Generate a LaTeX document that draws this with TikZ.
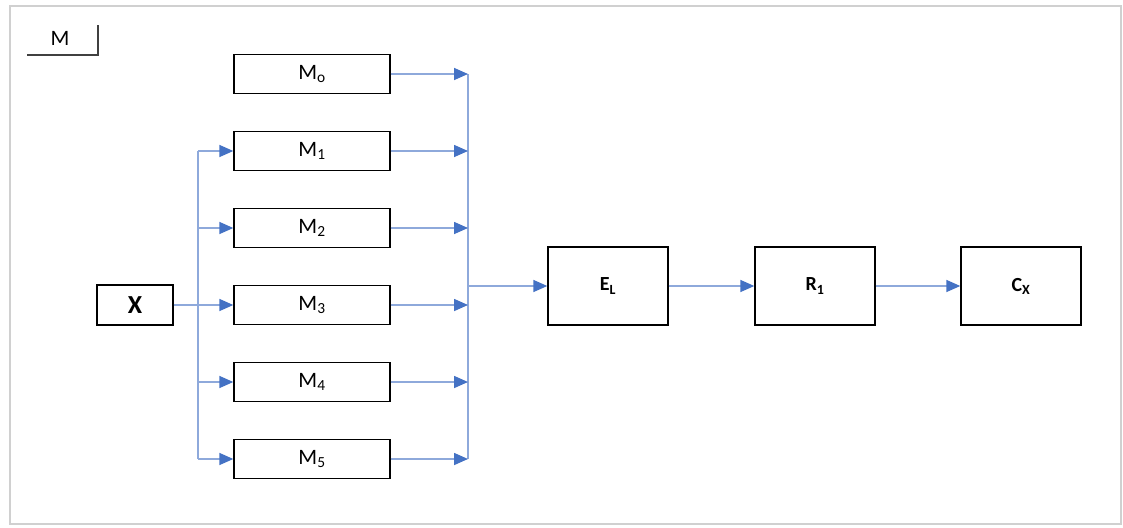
\documentclass[tikz,border=0pt]{standalone}
\usepackage{fontspec}
\setmainfont{Carlito}
\usetikzlibrary{arrows.meta}
\definecolor{lineblue}{HTML}{8EA9DB}
\definecolor{tipblue}{HTML}{4472C4}
\definecolor{framegray}{HTML}{D0D0D0}
\tikzset{
  box/.style={draw=black, line width=1.4pt, inner sep=0pt, align=center},
  mbox/.style={box, minimum width=156pt, minimum height=39pt, font=\fontsize{22}{26}\selectfont},
  bigbox/.style={box, minimum width=120pt, minimum height=78pt, font=\fontsize{20}{24}\selectfont\bfseries},
  conn/.style={draw=lineblue, line width=1.6pt},
  arr/.style={conn, -{Triangle[length=14pt, width=12pt, color=tipblue]}},
}
\begin{document}
\begin{tikzpicture}[x=1pt, y=-1pt]
\useasboundingbox (0,0) rectangle (1123,527);
% frame
\draw[framegray, line width=2pt] (10,524) -- (10,6) -- (1121,6) -- (1121,524) -- cycle;
% legend
\node[font=\fontsize{22}{26}\selectfont] (mlabel) at (60,38) {M};
\coordinate (lg1) at (27,55);
\coordinate (lg2) at (98,55);
\coordinate (lg3) at (98,25);
\draw[black!75, line width=1.4pt] (lg1) -- (lg2) -- (lg3);
% nodes
\node[box, minimum width=76pt, minimum height=40pt, font=\fontsize{26}{30}\selectfont\bfseries] (x) at (135,305) {X};
\node[mbox] (m0) at (312,74) {M\textsubscript{o}};
\node[mbox] (m1) at (312,151) {M\textsubscript{1}};
\node[mbox] (m2) at (312,228) {M\textsubscript{2}};
\node[mbox] (m3) at (312,305) {M\textsubscript{3}};
\node[mbox] (m4) at (312,382) {M\textsubscript{4}};
\node[mbox] (m5) at (312,459) {M\textsubscript{5}};
\node[bigbox] (el) at (608,286) {E\textsubscript{L}};
\node[bigbox] (r1) at (815,286) {R\textsubscript{1}};
\node[bigbox] (cx) at (1021,286) {C\textsubscript{X}};
% bus coordinates
\coordinate (lb1) at (198,151);
\coordinate (lb2) at (198,228);
\coordinate (lb3) at (198,305);
\coordinate (lb4) at (198,382);
\coordinate (lb5) at (198,459);
\coordinate (rb0) at (468,74);
\coordinate (rb1) at (468,151);
\coordinate (rb2) at (468,228);
\coordinate (rb3) at (468,305);
\coordinate (rb4) at (468,382);
\coordinate (rb5) at (468,459);
\coordinate (rbo) at (468,286);
% left bus
\draw[conn] (x.east) -- (lb3);
\draw[conn] (lb1) -- (lb5);
\foreach \i in {1,...,5} { \draw[arr] (lb\i) -- (m\i.west); }
% right bus
\draw[conn] (rb0) -- (rb5);
\foreach \i in {0,...,5} { \draw[arr] (m\i.east) -- (rb\i); }
\draw[arr] (rbo) -- (el.west);
\draw[arr] (el.east) -- (r1.west);
\draw[arr] (r1.east) -- (cx.west);
\end{tikzpicture}
\end{document}
